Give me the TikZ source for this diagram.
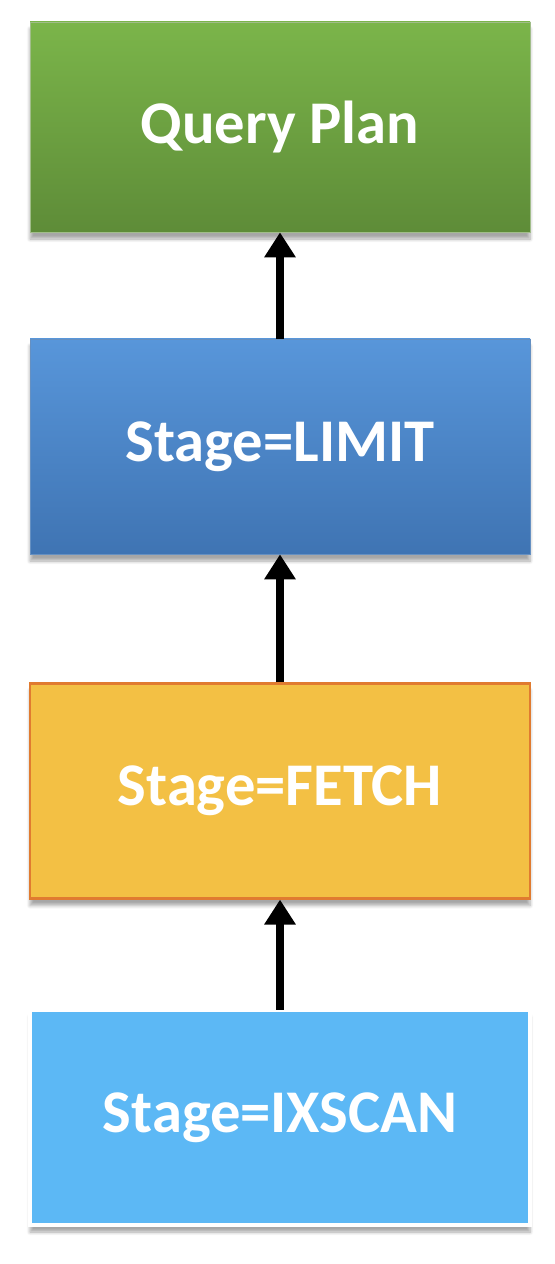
\documentclass[tikz,border=0pt]{standalone}
\usepackage{fontspec}
\setmainfont{Carlito}
\usepackage{xcolor}
\usetikzlibrary{positioning,arrows.meta,shadows.blur}

\definecolor{plantop}{HTML}{7BB54A}
\definecolor{planbot}{HTML}{5E8C38}
\definecolor{limittop}{HTML}{5896DA}
\definecolor{limitbot}{HTML}{3F74B3}
\definecolor{fetchfill}{HTML}{F3C044}
\definecolor{fetchline}{HTML}{E07B30}
\definecolor{scanfill}{HTML}{5CB8F5}

\tikzset{
    stagebox/.style={rectangle, minimum width=10cm, minimum height=4.3cm,
        text=white, font=\fontsize{34.5}{40}\selectfont\bfseries,
        blur shadow={shadow xshift=0pt, shadow yshift=-4pt, shadow blur steps=6, shadow opacity=35}},
    flow/.style={line width=4.5pt, -{Triangle[width=0.6cm,length=0.5cm]}}
}

\begin{document}
\begin{tikzpicture}
    \useasboundingbox (0,0) rectangle (11.08,25.28);

    \node[stagebox, top color=plantop, bottom color=planbot, draw=plantop!80!black!60, minimum height=4.2cm] (plan) at (5.6,22.74) {Query Plan};
    \node[stagebox, top color=limittop, bottom color=limitbot, draw=limitbot!80!white] (limit) at (5.6,16.35) {Stage=LIMIT};
    \node[stagebox, fill=fetchfill, draw=fetchline, line width=1.2pt] (fetch) at (5.6,9.46) {Stage=FETCH};
    \node[stagebox, fill=scanfill, draw=gray!35, double=white, double distance=2pt] (scan) at (5.6,2.93) {Stage=IXSCAN};

    \draw[flow] (limit) -- (plan);
    \draw[flow] (fetch) -- (limit);
    \draw[flow] (scan) -- (fetch);
\end{tikzpicture}
\end{document}
